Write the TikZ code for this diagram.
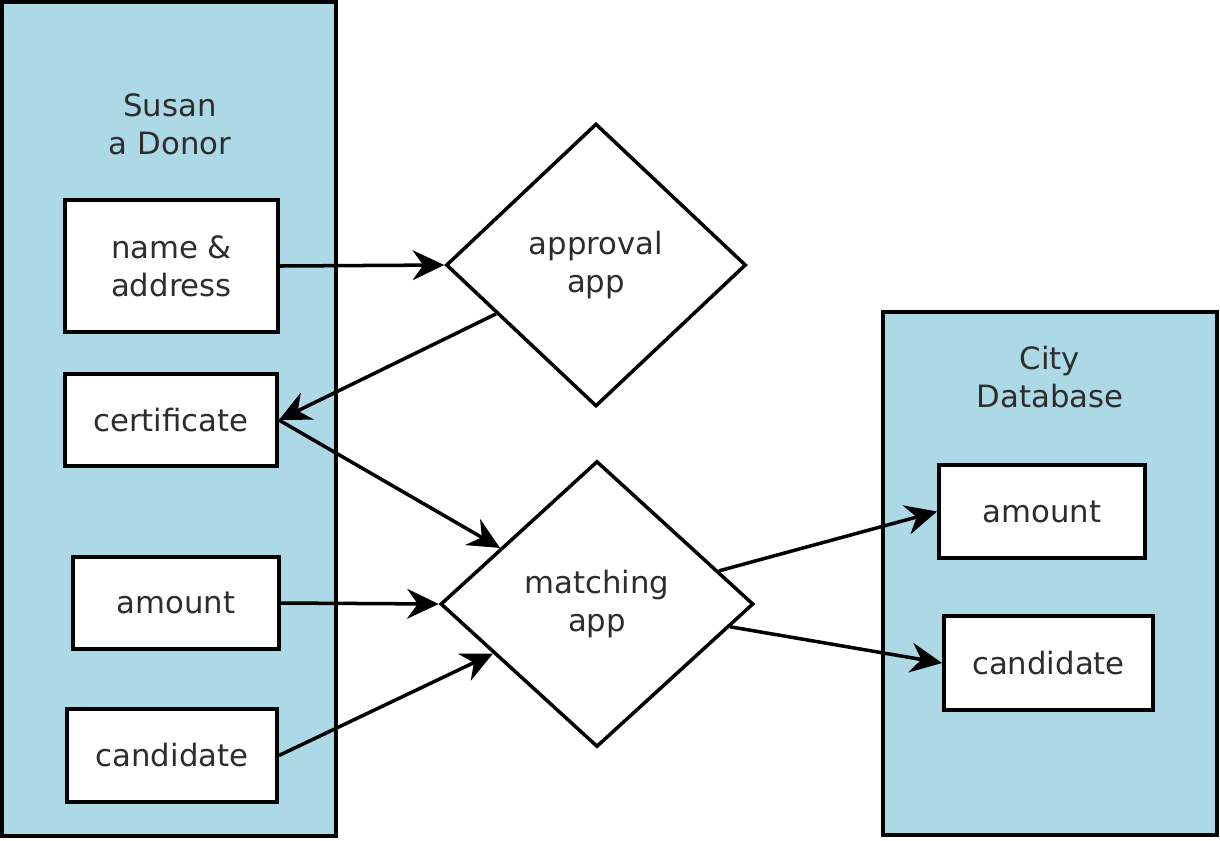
\documentclass[tikz,border=0pt]{standalone}
\usepackage{fontspec}
\setmainfont{DejaVu Sans}
\usetikzlibrary{shapes.geometric,arrows.meta}
\definecolor{paleblue}{RGB}{173,216,230}
\definecolor{txtgray}{RGB}{45,45,45}

\begin{document}
\begin{tikzpicture}[x=0.02cm,y=-0.02cm,font=\fontsize{17.5}{21.5}\selectfont,
    store/.style={draw,line width=2.6pt,fill=paleblue,minimum width=6.68cm},
    field/.style={draw,line width=2.2pt,fill=white,minimum height=1.84cm,text=txtgray,align=center},
    appnode/.style={draw,diamond,line width=2pt,fill=white,inner sep=0pt,text=txtgray,align=center},
    flow/.style={-{Stealth[length=18pt,width=17pt,inset=6pt]},line width=2pt}]
    \useasboundingbox (0,0) rectangle (1220,840);
    % the two stores
    \node[store,minimum height=16.68cm] (donor) at (169,419) {};
    \node[store,minimum height=10.46cm] (city) at (1050,573.5) {};
    \node[text=txtgray,align=center] (donortitle) at (170,124) {Susan\\a Donor};
    \node[text=txtgray,align=center] (citytitle) at (1050,377) {City\\Database};
    % fields of the donor
    \node[field,minimum width=4.26cm,minimum height=2.64cm] (name) at (171.5,266) {name \&\\address};
    \node[field,minimum width=4.24cm] (cert) at (171,420) {certificate};
    \node[field,minimum width=4.12cm] (amount) at (176,603) {amount};
    \node[field,minimum width=4.2cm,minimum height=1.86cm] (cand) at (172,755.5) {candidate};
    % fields of the city
    \node[field,minimum width=4.12cm,minimum height=1.86cm] (cityamount) at (1042,511.5) {amount};
    \node[field,minimum width=4.18cm,minimum height=1.88cm] (citycand) at (1048.5,663) {candidate};
    % the apps
    \node[appnode,minimum width=6cm,minimum height=5.66cm] (approval) at (596,265) {approval\\app};
    \node[appnode,minimum width=6.26cm,minimum height=5.72cm] (matching) at (597,604) {matching\\app};
    % data flow
    \draw[flow] (name.east) -- (approval.west);
    \draw[flow] (approval) -- (cert.east);
    \draw[flow] (cert.east) -- (matching);
    \draw[flow] (amount.east) -- (matching.west);
    \draw[flow] (cand.east) -- (matching);
    \draw[flow] (matching) -- (cityamount.west);
    \draw[flow] (matching) -- (citycand.west);
\end{tikzpicture}
\end{document}
